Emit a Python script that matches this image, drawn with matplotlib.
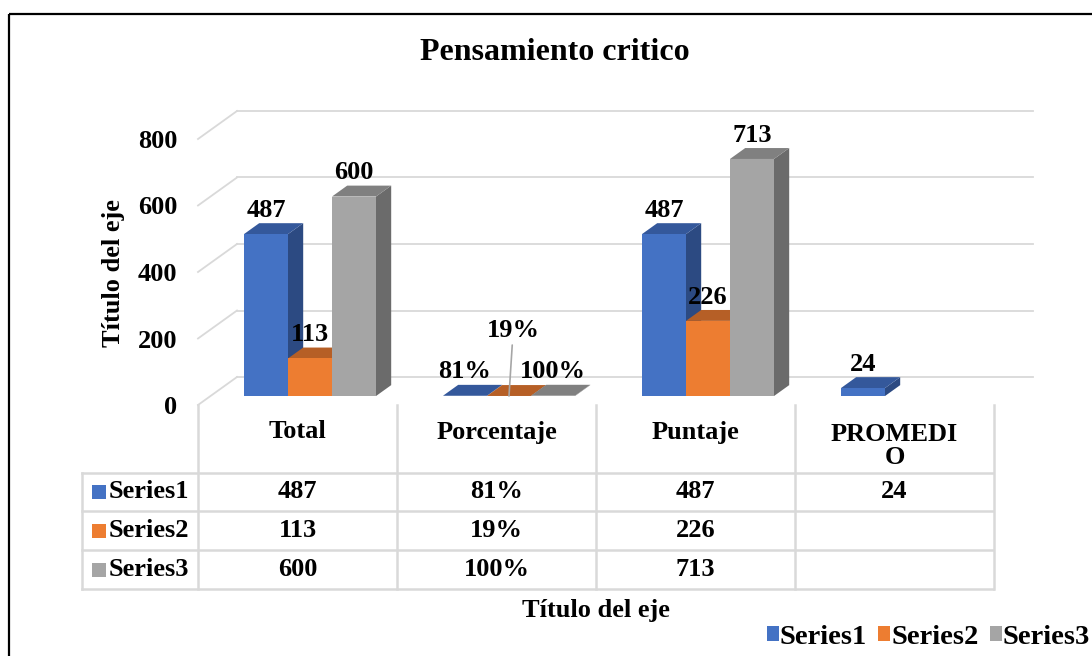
import matplotlib
matplotlib.use('Agg')
import matplotlib.pyplot as plt
from matplotlib.patches import Polygon, Rectangle
from matplotlib.transforms import blended_transform_factory

plt.rcParams['font.family'] = ['Liberation Serif', 'DejaVu Serif']
plt.rcParams['font.weight'] = 'bold'

# datos del grafico
categorias = ['Total', 'Porcentaje', 'Puntaje', 'PROMEDI\nO']
series = ['Series1', 'Series2', 'Series3']
series1 = [487, 0.81, 487, 24]
series2 = [113, 0.19, 226, None]
series3 = [600, 1.00, 713, None]
es_porcentaje = [False, True, False, False]
yticks = [0, 200, 400, 600, 800]

valores = [series1, series2, series3]

# colores (frente, arriba, lado)
colores = [
	('#4472c4', '#34589b', '#2c4a82'),
	('#ed7d31', '#b65f26', '#b15c22'),
	('#a5a5a5', '#808080', '#6b6b6b'),
]
grid_color = '#d9d9d9'
FS = 19

W, H = 1092, 656
fig = plt.figure(figsize=(W / 100, H / 100), dpi=100)

# capa en pixeles para marco, tabla y textos
capa = fig.add_axes([0, 0, 1, 1], zorder=0)
capa.set_xlim(0, W)
capa.set_ylim(H, 0)
capa.axis('off')

# ejes principales: x en categorias, y en valores
px_cat = 199.0
px_val = 266.0 / 800
x_izq, y_cero, y_top = 198, 405, 14
ax = fig.add_axes([x_izq / W, (H - y_cero) / H, (W - x_izq) / W, (y_cero - y_top) / H], zorder=1)
ax.set_xlim(-0.5, -0.5 + (W - x_izq) / px_cat)
ax.set_ylim(0, (y_cero - y_top) / px_val)
ax.patch.set_alpha(0)
for s in ax.spines.values():
	s.set_visible(False)
ax.set_xticks([])
ax.set_yticks(yticks)
ax.set_yticklabels([str(t) for t in yticks], fontsize=FS, fontweight='bold')
ax.tick_params(axis='y', length=0, pad=15)
ax.set_ylabel('Título del eje', fontsize=FS, fontweight='bold')
ax.yaxis.set_label_coords((125 - x_izq) / (W - x_izq), (y_cero - 273) / (y_cero - y_top))

# profundidad de las paredes y de las barras
DX = 39 / px_cat
DY = 28 / px_val
f_frente, f_fondo = 0.32, 0.71
n = len(categorias)
x_der = n - 0.5 + DX

# paredes: lineas de la grilla
for t in yticks:
	ax.plot([-0.5, -0.5 + DX], [t, t + DY], color=grid_color, lw=1.3, zorder=1, clip_on=False)
	ax.plot([-0.5 + DX, x_der], [t + DY, t + DY], color=grid_color, lw=1.3, zorder=1, clip_on=False)

# barras 3D
w = 44 / px_cat
fx, fy = f_frente * DX, f_frente * DY
bx, by = f_fondo * DX, f_fondo * DY
for j, vals in enumerate(valores):
	frente, arriba, lado = colores[j]
	for i, v in enumerate(vals):
		if v is None:
			continue
		x0 = i - 1.5 * w + j * w
		z = 2 + j
		ax.add_patch(Polygon([(x0 + w + fx, fy), (x0 + w + bx, by), (x0 + w + bx, v + by), (x0 + w + fx, v + fy)],
			closed=True, facecolor=lado, edgecolor='none', zorder=z))
		ax.add_patch(Polygon([(x0 + fx, v + fy), (x0 + w + fx, v + fy), (x0 + w + bx, v + by), (x0 + bx, v + by)],
			closed=True, facecolor=arriba, edgecolor='none', zorder=z))
		ax.add_patch(Rectangle((x0 + fx, fy), w, v, facecolor=frente, edgecolor='none', zorder=z))

		texto = f'{v:.0%}' if es_porcentaje[i] else f'{v:g}'
		xc = x0 + fx + w / 2
		if es_porcentaje[i] and j == 1:
			ax.annotate(texto, xy=(xc, fy), xytext=(3, 47), textcoords='offset points',
				ha='center', va='center', fontsize=FS, fontweight='bold', zorder=10,
				arrowprops=dict(arrowstyle='-', color='#a6a6a6', lw=1.2, shrinkA=0, shrinkB=0))
		else:
			ax.annotate(texto, xy=(xc, v + by), xytext=(0, 1), textcoords='offset points',
				ha='center', va='bottom', fontsize=FS, fontweight='bold', zorder=10)

# tabla de datos
tr = blended_transform_factory(ax.transData, capa.transData)
y_tabla, y_filas = 405, [473, 511, 550, 589]
x_tabla_izq = 82
for k in range(n + 1):
	capa.plot([k - 0.5, k - 0.5], [y_tabla, y_filas[-1]], color=grid_color, lw=1.8, transform=tr)
for yy in y_filas:
	capa.plot([x_tabla_izq, 993], [yy, yy], color=grid_color, lw=1.8)
capa.plot([x_tabla_izq, x_tabla_izq], [y_filas[0], y_filas[-1]], color=grid_color, lw=1.8)

for i, cat in enumerate(categorias):
	capa.text(i, 446 if '\n' in cat else 432, cat, transform=tr, ha='center', va='center',
		fontsize=FS, fontweight='bold', linespacing=1.0)

for j, nombre in enumerate(series):
	yc = (y_filas[j] + y_filas[j + 1]) / 2
	capa.add_patch(Rectangle((92, yc - 7), 14, 14, facecolor=colores[j][0], edgecolor='none'))
	capa.text(109, yc, nombre, ha='left', va='center', fontsize=FS, fontweight='bold')
	for i, v in enumerate(valores[j]):
		if v is None:
			continue
		texto = f'{v:.0%}' if es_porcentaje[i] else f'{v:g}'
		capa.text(i, yc, texto, transform=tr, ha='center', va='center', fontsize=FS, fontweight='bold')

capa.text(1.5, 610, 'Título del eje', transform=tr, ha='center', va='center', fontsize=FS, fontweight='bold')

# titulo
capa.text(555, 53, 'Pensamiento critico', ha='center', va='center', fontsize=23, fontweight='bold')

# leyenda inferior
handles = [Rectangle((0, 0), 1, 1, facecolor=c[0], edgecolor='none') for c in colores]
fig.legend(handles, series, loc='center left', bbox_to_anchor=(767 / W, 1 - 637 / H), ncol=3,
	frameon=False, handlelength=0.42, handleheight=0.42, handletextpad=0.03,
	columnspacing=0.4, borderpad=0, borderaxespad=0, prop={'weight': 'bold', 'size': 20.5})

# marco del grafico
capa.add_patch(Rectangle((9, 14), 1200, 800, facecolor='none', edgecolor='black', lw=1.6))

fig.savefig('out.png', dpi=100)
